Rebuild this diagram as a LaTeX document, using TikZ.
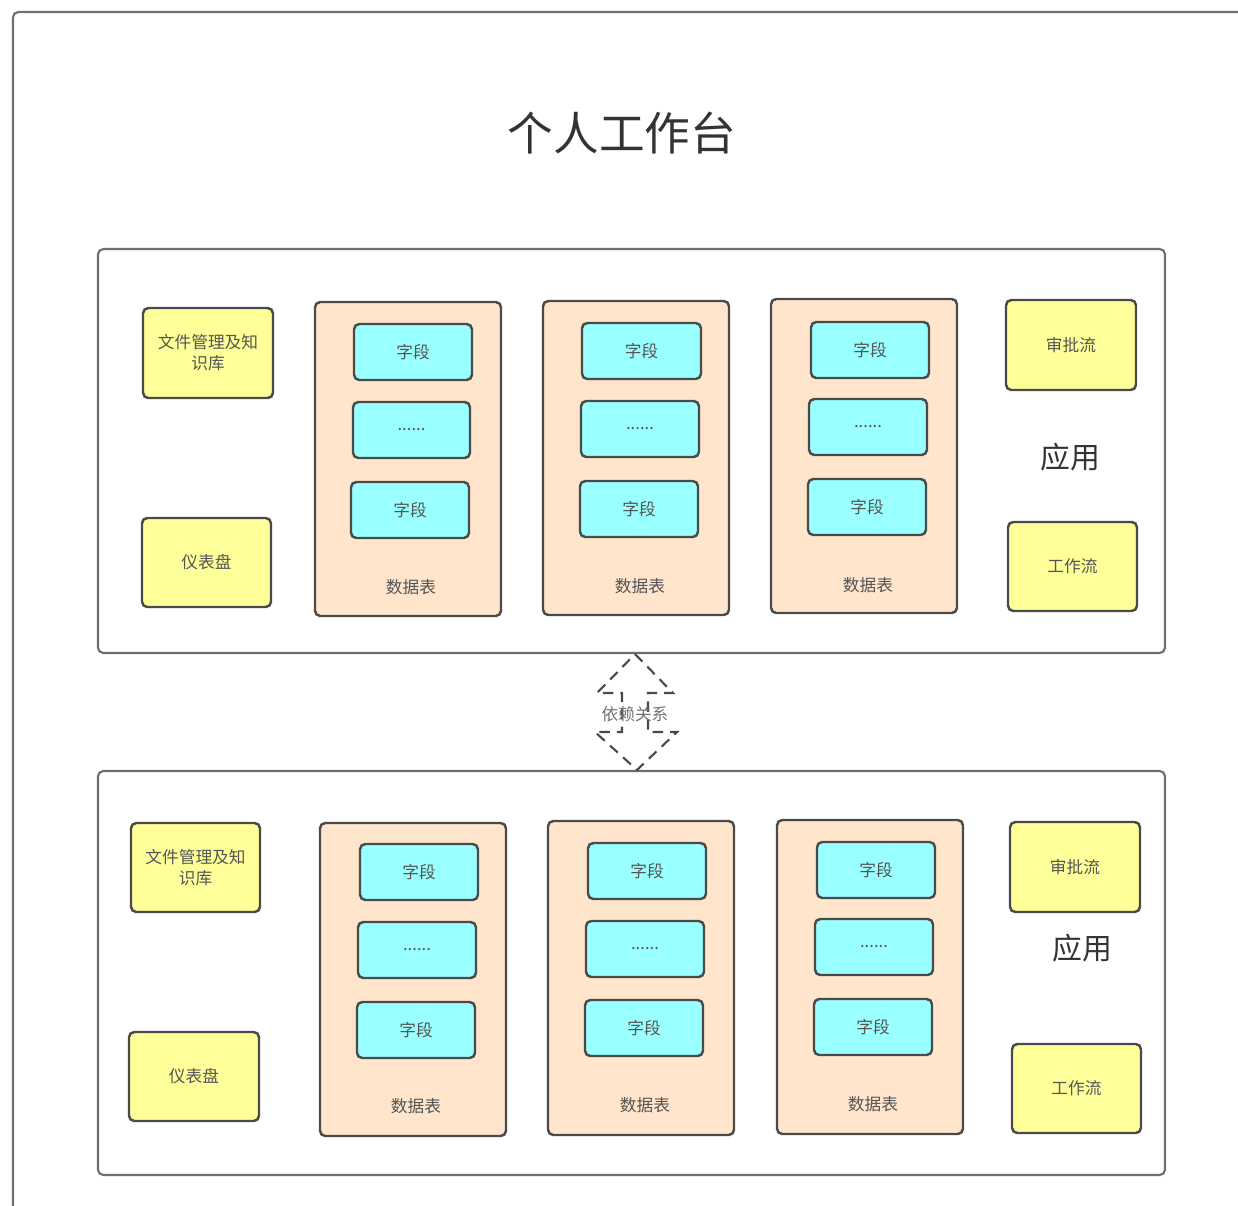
\documentclass[tikz,border=0pt]{standalone}
\usepackage{fontspec}
\setmainfont{Noto Sans CJK SC}
\definecolor{frame}{HTML}{6E6E6E}
\definecolor{bord}{HTML}{4A4A4A}
\definecolor{yel}{HTML}{FFFF99}
\definecolor{cyn}{HTML}{99FFFF}
\definecolor{peach}{HTML}{FFE5CC}
\definecolor{txt}{HTML}{555555}
\tikzset{
  x=0.02cm, y=-0.02cm,
  basebox/.style={draw=bord, line width=1.4pt, rounded corners=3pt, inner sep=0pt, align=center,
     text=txt, font=\fontsize{9.5}{12}\selectfont},
  ybox/.style={basebox, fill=yel},
  cbox/.style={basebox, fill=cyn},
  tbox/.style={basebox, fill=peach},
  panel/.style={draw=frame, line width=1.2pt, rounded corners=3pt, fill=white},
  lbl/.style={text=txt, font=\fontsize{9.5}{12}\selectfont, inner sep=0pt},
}
% \bx{name}{style}{x1}{y1}{x2}{y2}{text}
\newcommand{\bx}[7]{%
  \node[#2, minimum width={(#5-#3)*0.02cm}, minimum height={(#6-#4)*0.02cm}]
    (#1) at ({(#3+#5)/2},{(#4+#6)/2}) {#7};}
\newcommand{\tbl}[5]{% name, x1,y1,x2,y2 (table) -- fields follow separately
  \bx{#1}{tbox}{#2}{#3}{#4}{#5}{}}
\begin{document}
\begin{tikzpicture}
\useasboundingbox (0,0) rectangle (1238,1205);
% outer frame
\draw[draw=frame, line width=1.2pt, rounded corners=3pt] (13,1240) -- (13,12) -- (1260,12);
% title
\node[text=black!80, font=\fontsize{26}{30}\selectfont] (title) at (622,133) {个人工作台};

% ---------- panel 1 ----------
\bx{p1}{panel}{98}{249}{1165}{653}{}
\bx{a1}{ybox}{143}{308}{273}{398}{文件管理及知\\识库}
\bx{b1}{ybox}{142}{518}{271}{607}{仪表盘}
\tbl{t11}{315}{302}{501}{616}
\bx{f111}{cbox}{354}{324}{472}{380}{字段}
\bx{f112}{cbox}{353}{402}{470}{458}{......}
\bx{f113}{cbox}{351}{482}{469}{538}{字段}
\node[lbl] (l11) at (411,587) {数据表};
\tbl{t12}{543}{301}{729}{615}
\bx{f121}{cbox}{582}{323}{701}{379}{字段}
\bx{f122}{cbox}{581}{401}{699}{457}{......}
\bx{f123}{cbox}{580}{481}{698}{537}{字段}
\node[lbl] (l12) at (640,586) {数据表};
\tbl{t13}{771}{299}{957}{613}
\bx{f131}{cbox}{811}{322}{929}{378}{字段}
\bx{f132}{cbox}{809}{399}{927}{455}{......}
\bx{f133}{cbox}{808}{479}{926}{535}{字段}
\node[lbl] (l13) at (868,585) {数据表};
\bx{c1}{ybox}{1006}{300}{1136}{390}{审批流}
\node[text=black!80, font=\fontsize{17}{20}\selectfont] (app1) at (1070,457) {应用};
\bx{d1}{ybox}{1008}{522}{1137}{611}{工作流}

% ---------- panel 2 ----------
\bx{p2}{panel}{98}{771}{1165}{1175}{}
\bx{a2}{ybox}{131}{823}{260}{912}{文件管理及知\\识库}
\bx{b2}{ybox}{129}{1032}{259}{1121}{仪表盘}
\tbl{t21}{320}{823}{506}{1136}
\bx{f211}{cbox}{360}{844}{478}{900}{字段}
\bx{f212}{cbox}{358}{922}{476}{978}{......}
\bx{f213}{cbox}{357}{1002}{475}{1058}{字段}
\node[lbl] (l21) at (416,1106) {数据表};
\tbl{t22}{548}{821}{734}{1135}
\bx{f221}{cbox}{588}{843}{706}{899}{字段}
\bx{f222}{cbox}{586}{921}{704}{977}{......}
\bx{f223}{cbox}{585}{1000}{703}{1056}{字段}
\node[lbl] (l22) at (645,1105) {数据表};
\tbl{t23}{777}{820}{963}{1134}
\bx{f231}{cbox}{817}{842}{935}{898}{字段}
\bx{f232}{cbox}{815}{919}{933}{975}{......}
\bx{f233}{cbox}{814}{999}{932}{1055}{字段}
\node[lbl] (l23) at (873,1104) {数据表};
\bx{c2}{ybox}{1010}{822}{1140}{912}{审批流}
\node[text=black!80, font=\fontsize{17}{20}\selectfont] (app2) at (1082,948) {应用};
\bx{d2}{ybox}{1012}{1044}{1141}{1133}{工作流}

% ---------- dependency double arrow ----------
\coordinate (up) at (p1.south -| 635,0);
\coordinate (dn) at (p2.north -| 637,0);
\draw[draw=bord, line width=1.2pt, dashed, dash pattern=on 6pt off 4pt]
  (up) -- (673,693) -- (648,693) -- (648,732) -- (677,732) -- (dn)
  -- (595,732) -- (622,732) -- (622,693) -- (597,693) -- cycle;
\node[text=black!55, font=\fontsize{9.5}{12}\selectfont, inner sep=0pt] (dep) at (635,714) {依赖关系};
\end{tikzpicture}
\end{document}
